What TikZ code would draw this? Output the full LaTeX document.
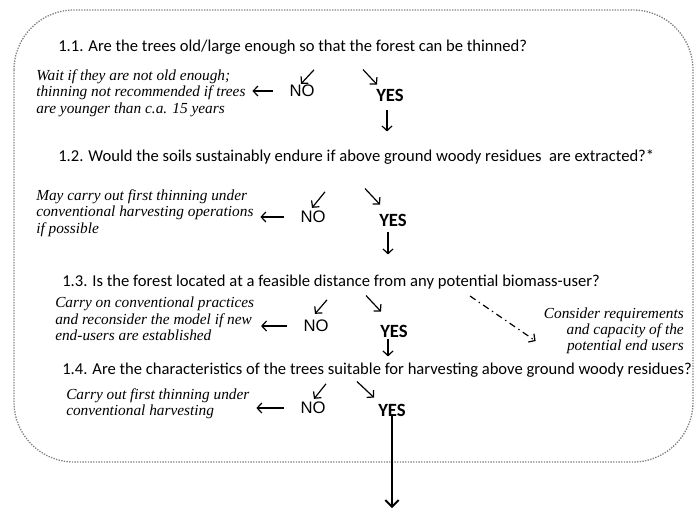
\documentclass[tikz,border=0pt]{standalone}
\usepackage{fontspec}
\setmainfont{Carlito}
\newfontfamily\answerfont{Liberation Sans}
\newfontfamily\notefont{Liberation Serif}
\usetikzlibrary{calc}
\usetikzlibrary{arrows.meta}

\begin{document}
\begin{tikzpicture}[x=0.75pt, y=-0.75pt,
	question/.style={anchor=west, inner sep=0pt, font=\fontsize{12.45}{14}\selectfont},
	no/.style={inner sep=0pt, font=\answerfont\fontsize{12.5}{14}\selectfont},
	yes/.style={inner sep=0pt, font=\bfseries\fontsize{14}{16}\selectfont},
	note/.style={inner sep=0pt, font=\notefont\itshape\fontsize{11.5}{12.2}\selectfont},
	link/.style={->, >={Straight Barb[length=3.5pt, width=7.5pt]}, line width=0.9pt},
	back/.style={link, shorten <=12pt, shorten >=5pt}]
	\useasboundingbox (0,0) rectangle (694,512);
	% Draw frame
	\draw[densely dotted, gray, line width=1pt, rounded corners=45] (14,10) rectangle (693,462);

	% Question 1.1
	\node[question] (q1) at (58,47) {1.1. Are the trees old/large enough so that the forest can be thinned?};
	\node[no] (no1) at (302,91) {NO};
	\node[yes] (yes1) at (390,95) {YES};
	\node[note, anchor=west, align=left] (w1) at (36,93)
	{Wait if they are not old enough;\\thinning not recommended if trees\\are younger than c.a. 15 years};
	\draw[link] ($(no1.north)+(12,-15)$) -- ($(no1.north)+(-1,-1)$);
	\draw[link] ($(yes1.north west)+(-13,-19)$) -- ($(yes1.north west)+(1,-4)$);
	\draw[back] (no1.west) -- (no1.west -| w1.east);
	\draw[link] ($(yes1.south)+(-3,9)$) -- ($(yes1.south)+(-3,30)$);

	% Question 1.2
	\node[question] (q2) at (58,157) {1.2. Would the soils sustainably endure if above ground woody residues\ \ are extracted?*};
	\node[no] (no2) at (313,217) {NO};
	\node[yes] (yes2) at (393,220) {YES};
	\node[note, anchor=west, align=left] (w2) at (36,213)
	{May carry out first thinning under\\conventional harvesting operations\\if possible};
	\draw[link] ($(no2.north)+(12,-19)$) -- ($(no2.north)+(-1,-3)$);
	\draw[link] ($(yes2.north west)+(-14,-25)$) -- ($(yes2.north west)+(1,-9)$);
	\draw[back] (no2.west) -- (no2.west -| w2.east);
	\draw[link] ($(yes2.south)+(-5,6)$) -- ($(yes2.south)+(-5,28)$);

	% Question 1.3
	\node[question] (q3) at (62,282) {1.3. Is the forest located at a feasible distance from any potential biomass-user?};
	\node[no] (no3) at (316,326) {NO};
	\node[yes] (yes3) at (394,331) {YES};
	\node[note, anchor=west, align=left] (w3) at (55,319)
	{Carry on conventional practices\\and reconsider the model if new\\end-users are established};
	\node[note, anchor=east, align=right] (r3) at (684,331)
	{Consider requirements\\and capacity of the\\potential end users};
	\coordinate (c3) at (470,296);
	\draw[link] ($(no3.north)+(11,-20)$) -- ($(no3.north)+(-1,-6)$);
	\draw[link] ($(yes3.north west)+(-14,-29)$) -- ($(yes3.north west)+(1,-13)$);
	\draw[back] (no3.west) -- (no3.west -| w3.east);
	\draw[link] ($(yes3.south)+(-6,2)$) -- ($(yes3.south)+(-6,19)$);
	\draw[link, dash pattern=on 5pt off 3pt on 1pt off 3pt] (c3) -- ($(r3.west)+(-8,10)$);

	% Question 1.4
	\node[question] (q4) at (62,370) {1.4. Are the characteristics of the trees suitable for harvesting above ground woody residues?};
	\node[no] (no4) at (313,408) {NO};
	\node[yes] (yes4) at (392,410) {YES};
	\node[note, anchor=west, align=left] (w4) at (66,404)
	{Carry out first thinning under\\conventional harvesting};
	\coordinate (out) at (393,508);
	\draw[link] ($(no4.north)+(13,-18)$) -- ($(no4.north)+(1,-3)$);
	\draw[link] ($(yes4.north west)+(-21,-22)$) -- ($(yes4.north west)+(-4,-6)$);
	\draw[back] (no4.west) -- (no4.west -| w4.east);
	\draw[->, >={Straight Barb[length=5pt, width=10pt]}, line width=1.4pt]
	  (yes4.south) -- (yes4.south |- out);
\end{tikzpicture}
\end{document}
